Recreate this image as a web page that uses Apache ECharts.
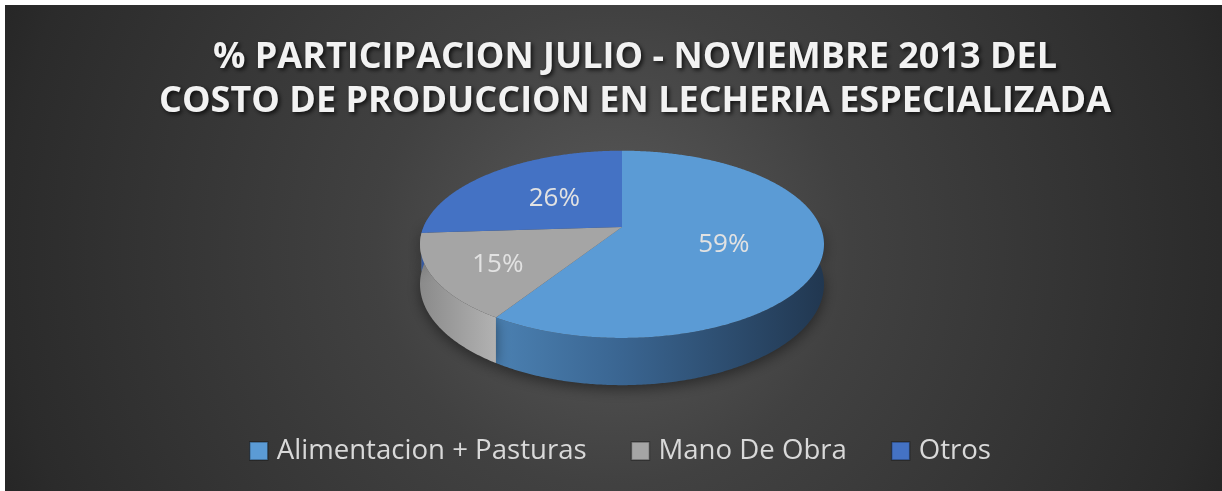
<!DOCTYPE html>
<html>
<head>
<meta charset="utf-8">
<title>Participacion costo de produccion</title>
<script src="https://cdn.jsdelivr.net/npm/echarts@6/dist/echarts.min.js"></script>
<style>
  html, body { margin: 0; padding: 0; background: #ffffff; }
  #chart { width: 1222px; height: 491px; }
</style>
</head>
<body>
<div id="chart"></div>
<script>
// datos
const categories = ['Alimentacion + Pasturas', 'Mano De Obra', 'Otros'];
const shares = [59, 15, 26];
const titleLines = ['% PARTICIPACION JULIO - NOVIEMBRE 2013 DEL', 'COSTO DE PRODUCCION EN LECHERIA ESPECIALIZADA'];

// estilos
const topColors = ['#5B9BD5', '#A5A5A5', '#4472C4'];
const sideStops = [
  [[0, '#4b82b4'], [0.2, '#4a7fb0'], [0.5, '#3a6591'], [1, '#213750']],
  [[0, '#8a8a8a'], [0.19, '#b2b2b2'], [1, '#b2b2b2']],
  [[0, '#3559a0'], [1, '#2a477f']]
];
const labelR = [0.52, 0.68, 0.56];

// geometria del pastel en perspectiva
const cx = 622, cy = 227, sx = 198.5, sy = 90.4, k = 0.185, depth = 38.5;
const total = shares.reduce((a, b) => a + b, 0);

function proj(r, deg) {
  const t = deg * Math.PI / 180;
  const u = r * Math.sin(t), v = r * Math.cos(t);
  const d = 1 + k * v;
  return [cx + sx * u / d, cy - sy * v / d, depth / d];
}

function arc(a, b) {
  const pts = [];
  const n = Math.max(2, Math.ceil((b - a) / 0.5));
  for (let i = 0; i <= n; i++) pts.push(proj(1, a + (b - a) * i / n));
  return pts;
}

function renderSlice(params, api) {
  const i = params.seriesIndex;
  const before = shares.slice(0, i).reduce((a, b) => a + b, 0);
  const a = before / total * 360;
  const b = a + api.value(0) / total * 360;
  const children = [];

  // pared lateral (solo la parte frontal es visible)
  const lo = Math.max(a, 85), hi = Math.min(b, 275);
  if (hi > lo) {
    const rim = arc(lo, hi);
    const pts = rim.map(p => [p[0], p[1]]);
    for (let j = rim.length - 1; j >= 0; j--) pts.push([rim[j][0], rim[j][1] + rim[j][2]]);
    children.push({
      type: 'polygon',
      z2: 1,
      shape: { points: pts },
      style: {
        fill: new echarts.graphic.LinearGradient(cx - sx * 1.02, 0, cx + sx * 1.02, 0,
          sideStops[i].map(s => ({ offset: s[0], color: s[1] })), true),
        shadowColor: 'rgba(0,0,0,0.45)',
        shadowBlur: 14,
        shadowOffsetY: 4
      }
    });
  }

  // cara superior
  const apex = proj(0, 0);
  const topPts = [[apex[0], apex[1]]].concat(arc(a, b).map(p => [p[0], p[1]]));
  children.push({
    type: 'polygon',
    z2: 10,
    shape: { points: topPts },
    style: { fill: topColors[i] }
  });

  // etiqueta
  const mid = (a + b) / 2;
  const lp = proj(labelR[i], mid);
  children.push({
    type: 'text',
    z2: 20,
    style: {
      text: Math.round(api.value(0) / total * 100) + '%',
      x: lp[0] + (i === 2 ? 8 : 0),
      y: lp[1] + 4,
      align: 'center',
      verticalAlign: 'middle',
      fill: '#e2e2e2',
      font: '26px "Open Sans", sans-serif'
    }
  });

  return { type: 'group', children: children };
}

const chart = echarts.init(document.getElementById('chart'));
const option = {
  animation: false,
  backgroundColor: '#ffffff',
  graphic: [{
    type: 'rect',
    silent: true,
    z: -10,
    shape: { x: 5, y: 5, width: 1217, height: 486 },
    style: {
      fill: new echarts.graphic.RadialGradient(613, 248, 660, [
        { offset: 0, color: '#5a5a5a' },
        { offset: 0.36, color: '#414141' },
        { offset: 0.92, color: '#2b2b2b' },
        { offset: 1, color: '#262626' }
      ], true)
    }
  }],
  title: {
    text: titleLines.join('\n'),
    left: 635,
    textAlign: 'center',
    top: 36,
    padding: 0,
    textStyle: {
      color: '#f2f2f2',
      fontFamily: '"Open Sans", sans-serif',
      fontWeight: 'bold',
      fontSize: 36,
      lineHeight: 44,
      textShadowColor: 'rgba(0,0,0,0.75)',
      textShadowBlur: 4,
      textShadowOffsetX: 2,
      textShadowOffsetY: 2
    }
  },
  legend: {
    left: 249,
    top: 437,
    padding: 0,
    itemGap: 44,
    itemWidth: 18,
    itemHeight: 18,
    icon: 'rect',
    data: categories,
    itemStyle: { borderColor: 'rgba(0,0,0,0.35)', borderWidth: 1.5 },
    textStyle: {
      color: '#d9d9d9',
      fontFamily: '"Open Sans", sans-serif',
      fontSize: 27.6,
      padding: [0, 0, 0, 4]
    }
  },
  series: categories.map((name, i) => ({
    type: 'custom',
    name: name,
    coordinateSystem: 'none',
    itemStyle: { color: topColors[i] },
    renderItem: renderSlice,
    data: [{ value: shares[i], name: name }]
  }))
};
chart.setOption(option);
</script>
</body>
</html>
